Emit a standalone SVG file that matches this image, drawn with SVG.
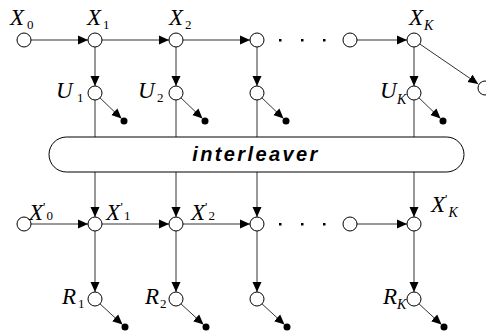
<svg xmlns="http://www.w3.org/2000/svg" width="486" height="334" viewBox="0 0 486 334">
<defs>
<marker id="ah" viewBox="0 0 10 10" refX="10" refY="5" markerWidth="10" markerHeight="10" markerUnits="userSpaceOnUse" orient="auto">
<path d="M0,0.5 L10,5 L0,9.5 z" fill="#000"/>
</marker>
<style>
.n{fill:#fff;stroke:#000;stroke-width:1}
.d{fill:#000}
.c{stroke:#333;stroke-width:1;fill:none}
.a{stroke:#333;stroke-width:1;fill:none;marker-end:url(#ah)}
.l{font-family:"Liberation Serif",serif;font-style:italic;font-size:23px;fill:#000}
.s{font-family:"Liberation Serif",serif;font-style:normal;font-size:13px}
.si{font-family:"Liberation Serif",serif;font-style:italic;font-size:14px}
.il{font-family:"Liberation Sans",Arial,sans-serif;font-style:italic;font-weight:bold;font-size:20px;letter-spacing:2.4px;fill:#000}
</style>
</defs>
<g id="connectors">
<line class="a" x1="31" y1="40" x2="88" y2="40"/>
<line class="a" x1="102" y1="40" x2="169" y2="40"/>
<line class="a" x1="183" y1="40" x2="250" y2="40"/>
<line class="a" x1="357" y1="40" x2="407" y2="40"/>
<line class="a" x1="419.8" y1="44" x2="478.2" y2="84"/>
<line class="a" x1="95" y1="47" x2="95" y2="86"/>
<line class="a" x1="176" y1="47" x2="176" y2="86"/>
<line class="a" x1="257" y1="47" x2="257" y2="86"/>
<line class="a" x1="414" y1="47" x2="414" y2="86"/>
<line class="a" x1="100" y1="97.9" x2="121.5" y2="118.6"/>
<line class="a" x1="181" y1="97.9" x2="202.5" y2="118.6"/>
<line class="a" x1="262" y1="97.9" x2="283.5" y2="118.6"/>
<line class="a" x1="419" y1="97.9" x2="440.5" y2="118.6"/>
<line class="c" x1="95" y1="100" x2="95" y2="137"/>
<line class="c" x1="176" y1="100" x2="176" y2="137"/>
<line class="c" x1="257" y1="100" x2="257" y2="137"/>
<line class="c" x1="414" y1="100" x2="414" y2="137"/>
<line class="a" x1="95" y1="172" x2="95" y2="217"/>
<line class="a" x1="176" y1="172" x2="176" y2="217"/>
<line class="a" x1="257" y1="172" x2="257" y2="217"/>
<line class="a" x1="414" y1="172" x2="414" y2="217"/>
<line class="a" x1="31" y1="224" x2="88" y2="224"/>
<line class="a" x1="102" y1="224" x2="169" y2="224"/>
<line class="a" x1="183" y1="224" x2="250" y2="224"/>
<line class="a" x1="357" y1="224" x2="407" y2="224"/>
<line class="a" x1="95" y1="231" x2="95" y2="292"/>
<line class="a" x1="176" y1="231" x2="176" y2="292"/>
<line class="a" x1="257" y1="231" x2="257" y2="292"/>
<line class="a" x1="414" y1="231" x2="414" y2="292"/>
<line class="a" x1="100" y1="303.9" x2="122.5" y2="324.6"/>
<line class="a" x1="181" y1="303.9" x2="203.5" y2="324.6"/>
<line class="a" x1="262" y1="303.9" x2="284.5" y2="324.6"/>
<line class="a" x1="419" y1="303.9" x2="441.5" y2="324.6"/>
</g>
<g id="interleaver">
<rect x="49" y="137" width="415" height="35" rx="17.5" ry="17.5" fill="#fff" stroke="#000" stroke-width="1"/>
<text class="il" x="256" y="161" text-anchor="middle">interleaver</text>
</g>
<g id="top-row">
<g id="X0"><circle class="n" cx="24" cy="40" r="7"/><text class="l" x="10" y="25">X<tspan class="s" x="27" dy="4">0</tspan></text></g>
<g id="X1"><circle class="n" cx="95" cy="40" r="7"/><text class="l" x="87" y="25">X<tspan class="s" x="103" dy="4">1</tspan></text></g>
<g id="X2"><circle class="n" cx="176" cy="40" r="7"/><text class="l" x="169" y="25">X<tspan class="s" x="185" dy="4">2</tspan></text></g>
<g id="X3"><circle class="n" cx="257" cy="40" r="7"/></g>
<g id="dots-top"><rect x="279" y="39" width="2.5" height="2.5"/><rect x="301" y="39" width="2.5" height="2.5"/><rect x="323" y="39" width="2.5" height="2.5"/></g>
<g id="XK-1"><circle class="n" cx="350" cy="40" r="7"/></g>
<g id="XK"><circle class="n" cx="414" cy="40" r="7"/><text class="l" x="409" y="25">X<tspan class="si" x="424" dy="5">K</tspan></text></g>
<g id="Xend"><circle class="n" cx="485" cy="88" r="7"/></g>
</g>
<g id="u-row">
<g id="U1"><circle class="n" cx="95" cy="93" r="7"/><text class="l" x="56" y="98">U<tspan class="s" x="77" dy="4">1</tspan></text><circle class="d" cx="124" cy="121" r="3.5"/></g>
<g id="U2"><circle class="n" cx="176" cy="93" r="7"/><text class="l" x="138" y="98">U<tspan class="s" x="157" dy="4">2</tspan></text><circle class="d" cx="205" cy="121" r="3.5"/></g>
<g id="U3"><circle class="n" cx="257" cy="93" r="7"/><circle class="d" cx="286" cy="121" r="3.5"/></g>
<g id="UK"><circle class="n" cx="414" cy="93" r="7"/><text class="l" x="380" y="98">U<tspan class="si" x="397" dy="6">K</tspan></text><circle class="d" cx="443" cy="121" r="3.5"/></g>
</g>
<g id="bottom-row">
<g id="Xp0"><circle class="n" cx="24" cy="224" r="7"/><text class="l" x="29" y="220">X<tspan class="s" x="43" dy="-9">'</tspan><tspan class="s" x="46.5" dy="9">0</tspan></text></g>
<g id="Xp1"><circle class="n" cx="95" cy="224" r="7"/><text class="l" x="106" y="220">X<tspan class="s" x="120.5" dy="-9">'</tspan><tspan class="s" x="124" dy="9">1</tspan></text></g>
<g id="Xp2"><circle class="n" cx="176" cy="224" r="7"/><text class="l" x="191" y="220">X<tspan class="s" x="205" dy="-9">'</tspan><tspan class="s" x="208.5" dy="9">2</tspan></text></g>
<g id="Xp3"><circle class="n" cx="257" cy="224" r="7"/></g>
<g id="dots-bottom"><rect x="279" y="223" width="2.5" height="2.5"/><rect x="301" y="223" width="2.5" height="2.5"/><rect x="323" y="223" width="2.5" height="2.5"/></g>
<g id="XpK-1"><circle class="n" cx="350" cy="224" r="7"/></g>
<g id="XpK"><circle class="n" cx="414" cy="224" r="7"/><text class="l" x="431" y="212">X<tspan class="s" x="445" dy="-9">'</tspan><tspan class="si" x="448.5" dy="14">K</tspan></text></g>
</g>
<g id="r-row">
<g id="R1"><circle class="n" cx="95" cy="299" r="7"/><text class="l" x="62" y="304">R<tspan class="s" x="78" dy="4">1</tspan></text><circle class="d" cx="125" cy="327" r="3.5"/></g>
<g id="R2"><circle class="n" cx="176" cy="299" r="7"/><text class="l" x="145" y="304">R<tspan class="s" x="160" dy="4">2</tspan></text><circle class="d" cx="206" cy="327" r="3.5"/></g>
<g id="R3"><circle class="n" cx="257" cy="299" r="7"/><circle class="d" cx="287" cy="327" r="3.5"/></g>
<g id="RK"><circle class="n" cx="414" cy="299" r="7"/><text class="l" x="383" y="304">R<tspan class="si" x="397" dy="5">K</tspan></text><circle class="d" cx="444" cy="327" r="3.5"/></g>
</g>
</svg>
